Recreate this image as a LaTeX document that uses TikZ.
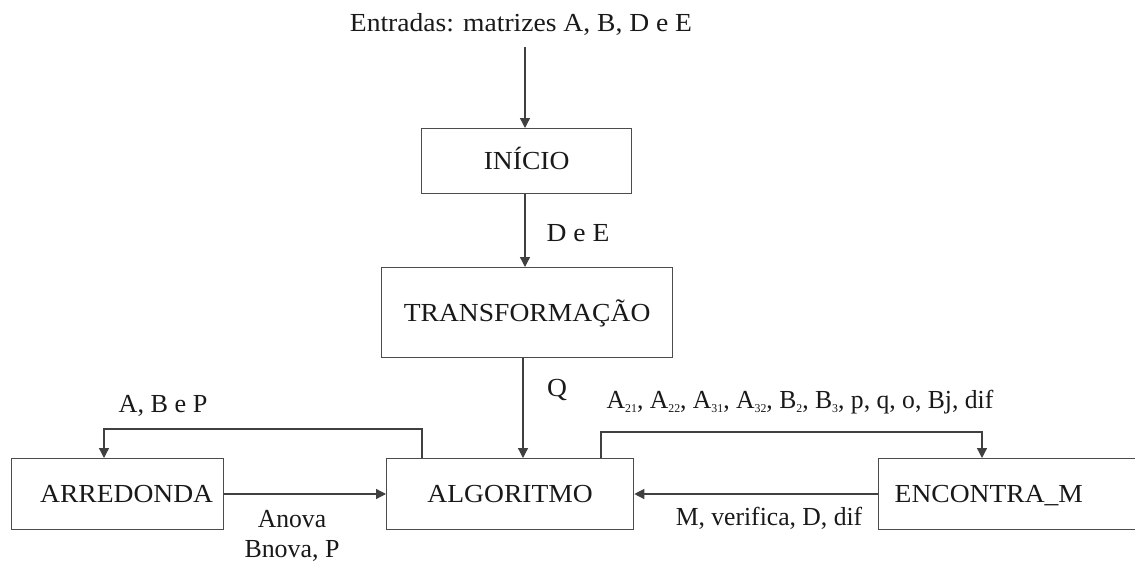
\documentclass[tikz,border=0pt]{standalone}
\usepackage{graphicx}
\usepackage{fontspec}
\setmainfont{Liberation Serif}[FakeStretch=1.06]
\usetikzlibrary{arrows.meta,calc}
% small lowered index, as in A_21
\newcommand{\ix}[1]{\raisebox{-4.5pt}{\fontsize{12}{12}\selectfont #1}}
% slightly condensed label text
\newcommand{\cnd}[2]{\scalebox{#1}[1]{#2}}
\begin{document}
\begin{tikzpicture}[x=1pt,y=-1pt,
  lbl/.style={font=\fontsize{26}{30}\selectfont, text=black!90, inner sep=0pt, anchor=base},
  blk/.style={draw=black!70, line width=1.3pt, font=\fontsize{26}{30}\selectfont, text=black!90,
              inner sep=0pt, text height=17.5pt, text depth=0pt, anchor=north west},
  link/.style={draw=black!75, line width=1.3pt, -{Triangle[length=10pt,width=10pt]}}]
\useasboundingbox (0,0) rectangle (1135,562);
\clip (0,0) rectangle (1135,562);
\fill[white] (0,0) rectangle (1135,562);

% blocks
\node[blk, minimum width=210pt, minimum height=65pt] (ini) at (421,128) {INÍCIO};
\node[blk, minimum width=291pt, minimum height=90pt] (tra) at (381,267) {TRANSFORMAÇÃO};
\node[blk, minimum width=247pt, minimum height=71pt] (alg) at (386,458) {ALGORITMO};
\node[blk, minimum width=212pt, minimum height=71pt, text width=212pt, align=center] (arr) at (11,458) {\hspace*{18pt}ARREDONDA};
\node[blk, minimum width=270pt, minimum height=71pt, text width=256pt, align=left] (enc) at (878,458) {\hspace*{9pt}ENCONTRA\_M};

% free labels (placed on their baselines)
\node[lbl] (inp) at (521,31) {Entradas: matrizes A, B, D e E};
\node[lbl] (lde) at (578,241) {D e E};
\node[lbl] (lq) at (557,396) {Q};
\node[lbl] (labp) at (163,412) {\cnd{0.95}{A, B e P}};
\node[lbl] (lnova1) at (292,527) {\cnd{0.93}{Anova}};
\node[lbl] (lnova2) at (292,557) {\cnd{0.94}{Bnova, P}};
\node[lbl] (lenc) at (800,408) {\cnd{0.93}{A\ix{21}, A\ix{22}, A\ix{31}, A\ix{32}, B\ix{2}, B\ix{3}, p, q, o, Bj, dif}};
\node[lbl] (lver) at (769,525) {\cnd{0.93}{M, verifica, D, dif}};

% connectors
\coordinate (src) at (525,47);
\draw[link] (src) -- (src |- ini.north);
\draw[link] (ini.south -| src) -- (src |- tra.north);
\coordinate (qx) at (523,0);
\draw[link] (tra.south -| qx) -- (qx |- alg.north);

\coordinate (a1) at (422,429);
\coordinate (a2) at (104,429);
\draw[link] (a1 |- alg.north) -- (a1) -- (a2) -- (a2 |- arr.north);

\coordinate (b1) at (601,432);
\coordinate (b2) at (982,432);
\draw[link] (b1 |- alg.north) -- (b1) -- (b2) -- (b2 |- enc.north);

\coordinate (mid) at (0,494);
\draw[link] (arr.east |- mid) -- (alg.west |- mid);
\draw[link] (enc.west |- mid) -- (alg.east |- mid);
\end{tikzpicture}
\end{document}
